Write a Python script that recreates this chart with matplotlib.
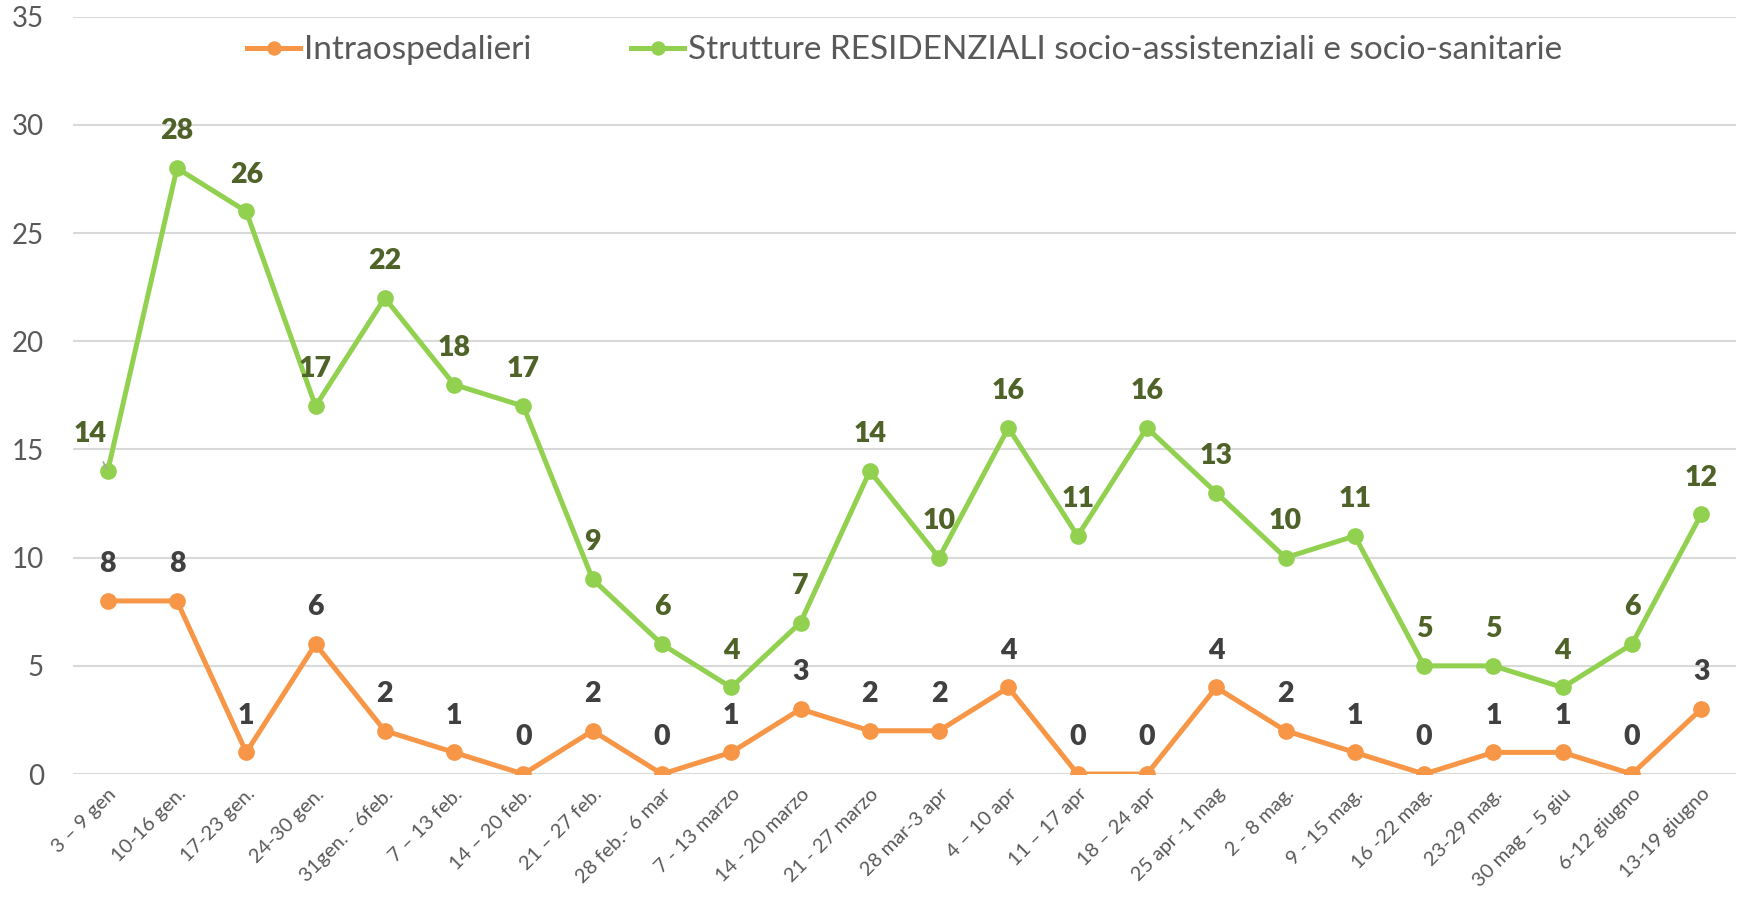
import matplotlib.pyplot as plt

plt.rcParams['font.family'] = ['Lato', 'DejaVu Sans']

weeks = ["3 – 9 gen", "10-16 gen.", "17-23 gen.", "24-30 gen.", "31gen. - 6feb.",
         "7 – 13 feb.", "14 – 20 feb.", "21 – 27 feb.", "28 feb.- 6 mar", "7 - 13 marzo",
         "14 - 20 marzo", "21 - 27 marzo", "28 mar-3 apr", "4 – 10 apr", "11 – 17 apr",
         "18 – 24 apr", "25 apr -1 mag", "2 - 8 mag.", "9 - 15 mag.", "16 -22 mag.",
         "23-29 mag.", "30 mag – 5 giu", "6-12 giugno", "13-19 giugno"]
intra = [8, 8, 1, 6, 2, 1, 0, 2, 0, 1, 3, 2, 2, 4, 0, 0, 4, 2, 1, 0, 1, 1, 0, 3]
resid = [14, 28, 26, 17, 22, 18, 17, 9, 6, 4, 7, 14, 10, 16, 11, 16, 13, 10, 11, 5, 5, 4, 6, 12]

orange = '#F79646'
green = '#92D050'

fig = plt.figure(figsize=(17.43, 9.07), dpi=100)
ax = fig.add_axes([0.0419, 0.1466, 0.954, 0.835])

x = list(range(len(weeks)))
ax.plot(x, intra, color=orange, lw=3.6, marker='o', ms=11, label='Intraospedalieri', zorder=3)
ax.plot(x, resid, color=green, lw=3.6, marker='o', ms=11,
        label='Strutture RESIDENZIALI socio-assistenziali e socio-sanitarie', zorder=3)

for i, v in enumerate(intra):
    ax.annotate(str(v), (i, v), xytext=(0, 26.5), textcoords='offset points',
                ha='center', va='center', fontsize=20.5, fontweight='heavy', color='#404040')
for i, v in enumerate(resid):
    if i == 0:
        ax.annotate(str(v), (i, v), xytext=(-13, 27), textcoords='offset points',
                    ha='center', va='center', fontsize=20.5, fontweight='heavy', color='#4F6228',
                    arrowprops=dict(arrowstyle='-', color='#A6A6A6', lw=1.2, shrinkA=10, shrinkB=2))
    else:
        ax.annotate(str(v), (i, v), xytext=(0, 26.5), textcoords='offset points',
                    ha='center', va='center', fontsize=20.5, fontweight='heavy', color='#4F6228')

ax.set_xlim(-0.5, len(weeks) - 0.5)
ax.set_ylim(0, 35)
ax.set_yticks(range(0, 36, 5))
ax.set_xticks(x)
ax.set_xticklabels(weeks, rotation=45, ha='right', rotation_mode='anchor')
ax.tick_params(axis='y', length=0, pad=21, labelsize=20, labelcolor='#595959')
ax.tick_params(axis='x', length=0, pad=8, labelsize=14.5, labelcolor='#595959')
ax.grid(axis='y', color='#D9D9D9', lw=1.5)
ax.set_axisbelow(True)
for s in ax.spines.values():
    s.set_visible(False)

ax.legend(loc='upper center', bbox_to_anchor=(0.5, 1.015), ncol=2, frameon=False,
          fontsize=24, labelcolor='#595959', handlelength=1.6, handletextpad=0.1,
          columnspacing=3, markerscale=0.85)

fig.savefig('out.png', dpi=100)
